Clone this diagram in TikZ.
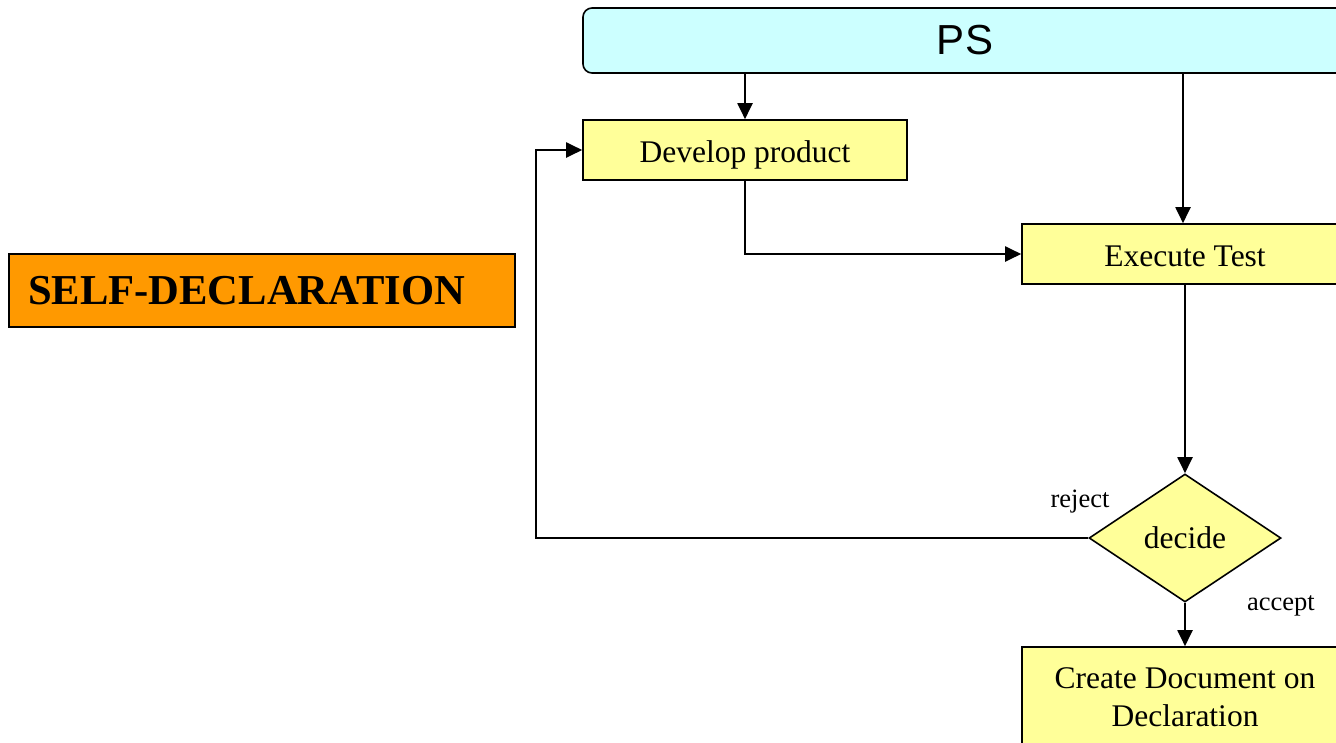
\documentclass[tikz,border=0pt]{standalone}
\usepackage{fontspec}
\setmainfont{Liberation Serif}
\newfontfamily\arialfont{Liberation Sans}
\usetikzlibrary{shapes.geometric,arrows.meta}
\definecolor{boxyellow}{HTML}{FFFF99}
\definecolor{pscyan}{HTML}{CCFFFF}
\definecolor{selforange}{HTML}{FF9900}
\begin{document}
\begin{tikzpicture}[x=1pt,y=-1pt,
  conn/.style={line width=2pt,-{Triangle[length=16pt,width=15pt]}},
  procbox/.style={draw,line width=1.6pt,fill=boxyellow,inner sep=0pt,
    font=\fontsize{31.5}{38}\selectfont,align=center},
  lbl/.style={font=\fontsize{26.5}{30}\selectfont,inner sep=0pt}]
\useasboundingbox (0,0) rectangle (1336,742);
\clip (0,0) rectangle (1336,742);
\node[draw,line width=1.6pt,fill=pscyan,rounded corners=9pt,minimum width=764pt,minimum height=65pt,inner sep=0pt,font=\arialfont\fontsize{42}{46}\selectfont] (ps) at (965,40.5) {PS};
\node[procbox,minimum width=324pt,minimum height=60pt,text height=25pt,text depth=0pt] (dev) at (745,150) {Develop product};
\node[procbox,minimum width=326pt,minimum height=60pt,text height=25pt,text depth=0pt] (exec) at (1185,254) {Execute Test};
\node[procbox,diamond,aspect=1.5,minimum width=192pt,minimum height=128pt] (dec) at (1185,538) {decide};
\node[procbox,minimum width=326pt,minimum height=100pt] (doc) at (1185,697) {Create Document on\\Declaration};
\node[draw,line width=1.6pt,fill=selforange,minimum width=506pt,minimum height=73pt,inner ysep=0pt,inner xsep=19pt,text width=468pt,align=left,font=\bfseries\fontsize{42.6}{46}\selectfont] (self) at (262,290.5) {SELF-DECLARATION};
\node[lbl] (rej) at (1080,502) {reject};
\node[lbl] (acc) at (1281,606) {accept};
\coordinate (loop) at (536,538);
\draw[conn] (dev.north |- ps.south) -- (dev.north);
\draw[conn] ([xshift=-2pt]exec.north |- ps.south) -- ([xshift=-2pt]exec.north);
\draw[conn] (dev.south) |- (exec.west);
\draw[conn] (exec.south) -- (dec.north);
\draw[conn] (dec.south) -- (doc.north);
\draw[conn] (dec.west) -- (loop) |- (dev.west);
\end{tikzpicture}
\end{document}
